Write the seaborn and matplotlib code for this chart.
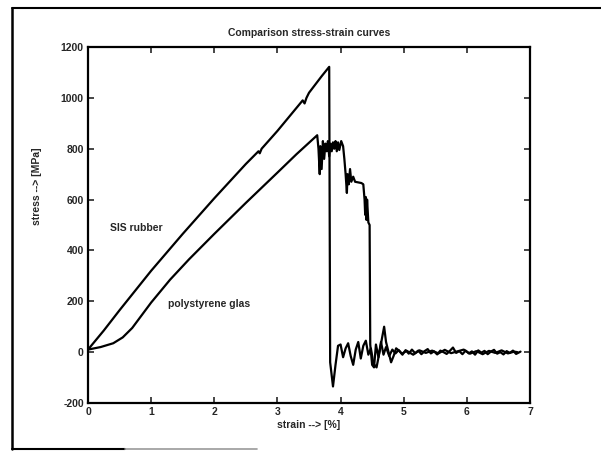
import matplotlib
matplotlib.use("Agg")
import matplotlib.pyplot as plt
from matplotlib.lines import Line2D
import seaborn as sns
import pandas as pd

sns.set_style("ticks")
plt.rcParams['font.family'] = ['Liberation Sans', 'DejaVu Sans']

title = "Comparison stress-strain curves"
xlabel = "strain --> [%]"
ylabel = "stress --> [MPa]"
xticks = [0, 1, 2, 3, 4, 5, 6, 7]
yticks = [-200, 0, 200, 400, 600, 800, 1000, 1200]

# SIS rubber (upper curve)
sis_x = [0.0, 0.25, 0.5, 1.0, 1.5, 2.0, 2.5, 2.7, 2.72, 2.75, 3.0, 3.3, 3.4, 3.43,
         3.46, 3.5, 3.7, 3.82, 3.835, 3.88, 3.92, 3.96, 4.00, 4.04, 4.08, 4.12,
         4.16, 4.20, 4.24, 4.28, 4.32, 4.36, 4.40, 4.44, 4.48, 4.52, 4.57, 4.62,
         4.66, 4.69, 4.72, 4.76, 4.80, 4.84, 4.88, 4.93, 4.98, 5.03, 5.08, 5.13,
         5.18, 5.23, 5.28, 5.33, 5.38, 5.43, 5.48, 5.53, 5.58, 5.63, 5.68, 5.73,
         5.78, 5.83, 5.88, 5.93, 5.98, 6.03, 6.08, 6.13, 6.18, 6.23, 6.28, 6.33,
         6.38, 6.43, 6.48, 6.53, 6.58, 6.63, 6.68, 6.73, 6.78, 6.85]
sis_y = [10, 85, 165, 320, 465, 605, 740, 790, 782, 800, 870, 960, 990, 978,
         1000, 1020, 1085, 1122, -40, -135, -50, 25, 30, -20, 15, 35,
         -15, -50, 10, 40, -25, 25, 45, -10, 15, -45, -60, 5,
         60, 100, 40, 0, -40, -15, 15, 5, -10, 8, -6, 10,
         -4, 6, -8, 4, 12, -5, 3, -9, 6, 0, -7, 5,
         18, -3, 4, -8, 6, -5, 3, -10, 7, -2, 5, -8,
         2, 9, -6, 0, -9, 4, -3, 6, -7, 2]

# polystyrene glas (lower curve)
ps_x = [0.0, 0.2, 0.4, 0.55, 0.7, 0.85, 1.0, 1.3, 1.6, 2.0, 2.5, 3.0, 3.3, 3.63,
        3.65, 3.67, 3.68, 3.70, 3.72, 3.74, 3.76, 3.78, 3.80, 3.82, 3.84, 3.86,
        3.88, 3.90, 3.92, 3.94, 3.96, 3.98, 4.01, 4.04, 4.06, 4.08, 4.10, 4.11,
        4.13, 4.15, 4.17, 4.20, 4.23, 4.33, 4.36, 4.38, 4.39, 4.40, 4.41, 4.42,
        4.44, 4.46, 4.47, 4.50, 4.53, 4.56, 4.60, 4.64, 4.68, 4.72, 4.77, 4.82,
        4.87, 4.92, 4.97, 5.05, 5.15, 5.25, 5.35, 5.45, 5.55, 5.65, 5.75, 5.85,
        5.95, 6.05, 6.15, 6.25, 6.35, 6.45, 6.55, 6.65, 6.75, 6.80]
ps_y = [10, 20, 35, 58, 95, 145, 195, 285, 365, 465, 587, 706, 778, 853,
        800, 700, 810, 720, 830, 760, 820, 790, 830, 770, 820, 790,
        825, 800, 830, 790, 825, 795, 830, 810, 760, 700, 626, 700,
        660, 720, 670, 690, 670, 665, 660, 600, 540, 610, 520, 600,
        510, 500, 30, -50, -60, 30, -20, 40, -10, 20, -15, 10,
        -5, 8, -6, 5, -10, 7, -3, 6, -5, 9, -4, 3,
        10, -6, 4, -8, 5, -3, 7, -5, 2, 0]

df = pd.concat([
    pd.DataFrame({"strain": sis_x, "stress": sis_y, "material": "SIS rubber"}),
    pd.DataFrame({"strain": ps_x, "stress": ps_y, "material": "polystyrene glas"}),
], ignore_index=True)

fig = plt.figure(figsize=(6.01, 4.53), dpi=100)
ax = fig.add_axes([88 / 601, 50 / 453, 442 / 601, 356 / 453])

sns.lineplot(data=df, x="strain", y="stress", hue="material",
             palette={"SIS rubber": "black", "polystyrene glas": "black"},
             estimator=None, sort=False, linewidth=1.6, legend=False, ax=ax)

ax.set_xlim(0, 7)
ax.set_ylim(-200, 1200)
ax.set_xticks(xticks)
ax.set_yticks(yticks)
ax.set_xticklabels([str(t) for t in xticks], fontsize=7.5, fontweight='bold')
ax.set_yticklabels([str(t) for t in yticks], fontsize=7.5, fontweight='bold')
ax.tick_params(direction='in', length=4, width=1.2, top=True, right=True, pad=3)
for s in ax.spines.values():
    s.set_visible(True)
    s.set_linewidth(1.6)
    s.set_color('black')

ax.set_title(title, fontsize=7.5, fontweight='bold', pad=8)
ax.set_xlabel(xlabel, fontsize=7.5, fontweight='bold', labelpad=2)
ax.set_ylabel(ylabel, fontsize=7.5, fontweight='bold')
ax.yaxis.set_label_coords(-0.104, 0.61)

ax.text(0.77, 488, "SIS rubber", fontsize=7.5, fontweight='bold', ha='center', va='center')
ax.text(1.92, 191, "polystyrene glas", fontsize=7.5, fontweight='bold', ha='center', va='center')

# outer frame (partial, as in the scan)
fig.add_artist(Line2D([12 / 601, 12 / 601], [1 - 449 / 453, 1 - 8 / 453], color='black', lw=1.8, transform=fig.transFigure))
fig.add_artist(Line2D([12 / 601, 1.0], [1 - 8 / 453, 1 - 8 / 453], color='black', lw=1.5, transform=fig.transFigure))
fig.add_artist(Line2D([12 / 601, 125 / 601], [1 - 449 / 453, 1 - 449 / 453], color='black', lw=1.5, transform=fig.transFigure))
fig.add_artist(Line2D([125 / 601, 257 / 601], [1 - 449 / 453, 1 - 449 / 453], color='0.6', lw=1.2, transform=fig.transFigure))

fig.savefig("out.png", dpi=100)
